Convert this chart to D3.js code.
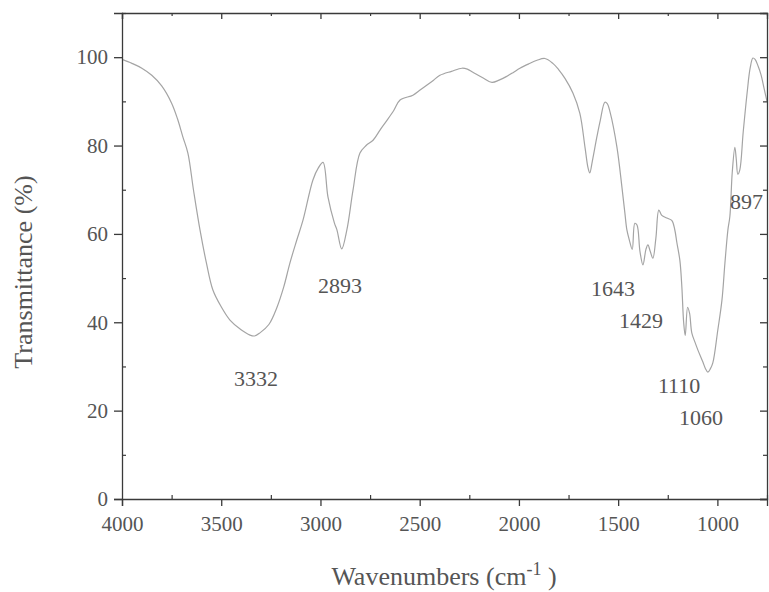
<!DOCTYPE html>
<html>
<head>
<meta charset="utf-8">
<script src="https://cdn.jsdelivr.net/npm/d3@7"></script>
<style>
  html, body { margin: 0; padding: 0; background: #fff; }
  svg { display: block; }
</style>
</head>
<body>
<script>
// FTIR spectrum: wavenumber (cm^-1) vs transmittance (%)
const wavenumber = [
  4000, 3950, 3900, 3850, 3800, 3750, 3720, 3693, 3668, 3640, 3607, 3575, 3542, 3500, 3456,
  3400, 3355, 3332, 3305, 3260, 3219, 3185, 3154, 3120, 3088, 3038, 3010, 2987, 2962, 2930,
  2917, 2893, 2867, 2836, 2801, 2770, 2735, 2700, 2665, 2630, 2599, 2534, 2500, 2463, 2430,
  2398, 2340, 2287, 2260, 2232, 2180, 2136, 2100, 2060, 2030, 1995, 1950, 1909, 1869, 1829,
  1800, 1768, 1728, 1693, 1667, 1652, 1643, 1630, 1607, 1590, 1567, 1555, 1541, 1506, 1481,
  1466, 1456, 1443, 1429, 1416, 1405, 1390, 1375, 1360, 1350, 1338, 1325, 1310, 1295, 1280,
  1255, 1229, 1215, 1204, 1189, 1179, 1170, 1162, 1150, 1140, 1129, 1113, 1098, 1073, 1060,
  1048, 1035, 1023, 998, 977, 962, 947, 937, 925, 912, 905, 897, 887, 870, 850,
  835, 821, 810, 795, 780, 765, 750
];
const transmittance = [
  99.5, 98.6, 97.5, 95.9, 93.5, 89.6, 86.0, 81.9, 78.3, 70.0, 60.9, 53.5, 47.3, 43.5, 40.5,
  38.3, 37.1, 36.9, 37.6, 39.5, 43.4, 48.0, 53.4, 58.5, 63.1, 72.2, 75.0, 76.2, 68.3, 62.5,
  60.9, 56.6, 60.9, 69.9, 78.3, 80.0, 81.2, 83.5, 85.7, 88.0, 90.3, 91.4, 92.5, 93.7, 94.8,
  95.9, 96.8, 97.5, 97.3, 96.6, 95.3, 94.3, 94.8, 95.7, 96.5, 97.5, 98.5, 99.3, 99.7, 98.6,
  97.2, 95.2, 91.9, 87.3, 79.6, 75.0, 73.8, 76.5, 82.0, 85.7, 89.8, 89.5, 87.6, 79.6, 70.6,
  64.7, 60.9, 58.5, 56.5, 62.4, 62.0, 56.0, 53.0, 56.5, 57.5, 56.0, 54.5, 59.0, 65.4, 64.2,
  63.6, 63.0, 61.0, 58.0, 54.0, 48.0, 40.0, 37.0, 43.4, 42.0, 37.6, 35.5, 33.7, 31.0, 29.5,
  28.7, 29.5, 30.8, 38.2, 45.0, 53.4, 60.9, 64.0, 74.0, 79.6, 77.0, 73.5, 74.5, 83.0, 92.0,
  97.5, 99.8, 99.5, 98.0, 96.0, 93.0, 90.0
];

const xTickValues = [4000, 3500, 3000, 2500, 2000, 1500, 1000];
const xMinorValues = [3750, 3250, 2750, 2250, 1750, 1250, 750];
const yTickValues = [0, 20, 40, 60, 80, 100];
const yMinorValues = [10, 30, 50, 70, 90, 110];

// Peak annotations: text, and the (wavenumber, transmittance) point where each text sits
const peakText = ["3332", "2893", "1643", "1429", "1110", "1060", "897"];
const peakTextWn = [3325, 2902, 1526, 1385, 1193, 1083, 936];
const peakTextT = [25.6, 46.6, 45.9, 38.7, 24.0, 16.7, 65.6];
const peakAnchor = ["middle", "middle", "middle", "middle", "middle", "middle", "start"];

const W = 769, H = 592;
const margin = { left: 122, right: 2, top: 13, bottom: 93 };
const plotW = W - margin.left - margin.right;
const plotH = H - margin.top - margin.bottom;
const serif = "'Liberation Serif', 'Times New Roman', serif";

const svg = d3.select("body").append("svg")
  .attr("width", W).attr("height", H)
  .style("font-family", serif);

const x = d3.scaleLinear().domain([4000, 750]).range([0, plotW]);
const y = d3.scaleLinear().domain([0, 110]).range([plotH, 0]);

const g = svg.append("g").attr("transform", `translate(${margin.left},${margin.top})`);

g.append("clipPath").attr("id", "plotClip")
  .append("rect").attr("width", plotW).attr("height", plotH);

// spectrum trace
const line = d3.line()
  .x((d, i) => x(wavenumber[i]))
  .y((d, i) => y(transmittance[i]))
  .curve(d3.curveCatmullRom.alpha(0.5));

g.append("path")
  .datum(wavenumber)
  .attr("clip-path", "url(#plotClip)")
  .attr("fill", "none")
  .attr("stroke", "#a4a4a4")
  .attr("stroke-width", 1.2)
  .attr("d", line);

// peak labels
g.append("g").attr("clip-path", "url(#plotClip)")
  .selectAll("text")
  .data(peakText)
  .join("text")
  .attr("x", (d, i) => x(peakTextWn[i]))
  .attr("y", (d, i) => y(peakTextT[i]))
  .attr("text-anchor", (d, i) => peakAnchor[i])
  .attr("font-size", 22)
  .attr("fill", "#555")
  .text(d => d);

const axisColor = "#3a3a3a";
const labelColor = "#555";

function styleAxis(sel) {
  sel.select(".domain").attr("stroke", axisColor).attr("stroke-width", 1.3);
  sel.selectAll(".tick line").attr("stroke", axisColor).attr("stroke-width", 1.3);
  sel.selectAll(".tick text").attr("fill", labelColor)
    .attr("font-size", 21)
    .style("font-family", serif);
}
function styleMinor(sel) {
  sel.select(".domain").remove();
  sel.selectAll("line").attr("stroke", axisColor).attr("stroke-width", 1.2);
}

// bottom axis: major ticks outside, minor ticks inside
const xAxis = g.append("g").attr("transform", `translate(0,${plotH})`)
  .call(d3.axisBottom(x).tickValues(xTickValues).tickSize(7).tickPadding(10).tickFormat(d3.format("d")));
styleAxis(xAxis);
g.append("g").attr("transform", `translate(0,${plotH})`)
  .call(d3.axisTop(x).tickValues(xMinorValues).tickSize(4).tickFormat(""))
  .call(styleMinor);

// top axis: ticks inside
const xTop = g.append("g")
  .call(d3.axisBottom(x).tickValues(xTickValues).tickSize(6).tickFormat(""));
styleAxis(xTop);
g.append("g")
  .call(d3.axisBottom(x).tickValues(xMinorValues).tickSize(3).tickFormat(""))
  .call(styleMinor);

// left axis: major outside, minor inside
const yAxis = g.append("g")
  .call(d3.axisLeft(y).tickValues(yTickValues).tickSize(8).tickPadding(6).tickFormat(d3.format("d")));
styleAxis(yAxis);
g.append("g")
  .call(d3.axisRight(y).tickValues(yMinorValues).tickSize(4).tickFormat(""))
  .call(styleMinor);

// right axis: ticks inside
const yRight = g.append("g").attr("transform", `translate(${plotW},0)`)
  .call(d3.axisLeft(y).tickValues(yTickValues).tickSize(7).tickFormat(""));
styleAxis(yRight);
g.append("g").attr("transform", `translate(${plotW},0)`)
  .call(d3.axisLeft(y).tickValues(yMinorValues).tickSize(4).tickFormat(""))
  .call(styleMinor);

// axis titles
const xTitle = svg.append("text")
  .attr("x", 444)
  .attr("y", 585)
  .attr("text-anchor", "middle")
  .attr("font-size", 26)
  .attr("fill", labelColor);
xTitle.append("tspan").text("Wavenumbers (cm");
xTitle.append("tspan").attr("dy", -10).attr("font-size", 18).text("-1");
xTitle.append("tspan").attr("dy", 10).text(" )");

svg.append("text")
  .attr("transform", "translate(32,272) rotate(-90)")
  .attr("text-anchor", "middle")
  .attr("font-size", 26)
  .attr("fill", labelColor)
  .text("Transmittance (%)");
</script>
</body>
</html>
